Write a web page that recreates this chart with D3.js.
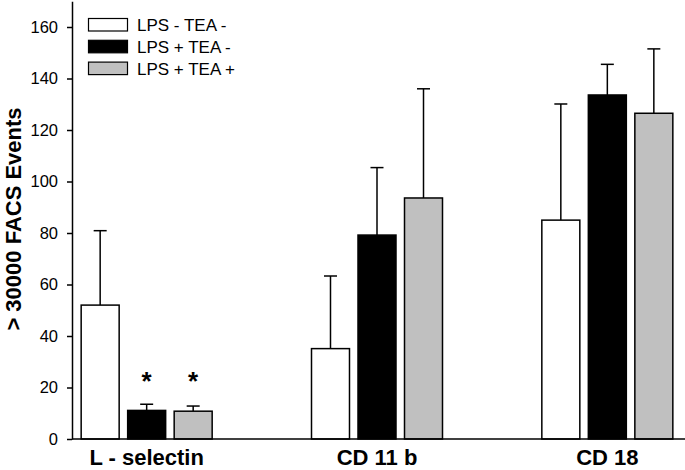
<!DOCTYPE html>
<html>
<head>
<meta charset="utf-8">
<script src="https://cdn.jsdelivr.net/npm/d3@7"></script>
<style>
  html, body { margin: 0; padding: 0; background: #fff; }
  svg { display: block; font-family: "Liberation Sans", Arial, sans-serif; }
</style>
</head>
<body>
<svg id="chart" width="685" height="470"></svg>
<script>
const categories = ["L - selectin", "CD 11 b", "CD 18"];
const seriesNames = ["LPS - TEA -", "LPS + TEA -", "LPS + TEA +"];
const seriesColors = ["#ffffff", "#000000", "#c0c0c0"];
const valsLpsNegTeaNeg = [52, 35.1, 85.0];
const valsLpsPosTeaNeg = [11.1, 79.2, 133.6];
const valsLpsPosTeaPos = [10.8, 93.6, 126.5];
const errLpsNegTeaNeg = [28.9, 28.2, 45.1];
const errLpsPosTeaNeg = [2.4, 26.2, 11.9];
const errLpsPosTeaPos = [2.0, 42.4, 25.0];
const significant = [[false, true, true], [false, false, false], [false, false, false]];
const yTicks = [0, 20, 40, 60, 80, 100, 120, 140, 160];

const values = [valsLpsNegTeaNeg, valsLpsPosTeaNeg, valsLpsPosTeaPos];
const errors = [errLpsNegTeaNeg, errLpsPosTeaNeg, errLpsPosTeaPos];

const svg = d3.select("#chart");
const y = d3.scaleLinear().domain([0, 170]).range([439, 1.25]);
const x0 = d3.scaleBand().domain(categories).range([31.5, 722.5]).padding(0);
const groupW = 131;
const x1 = d3.scaleBand().domain(d3.range(seriesNames.length))
  .range([x0.bandwidth() / 2 - groupW / 2, x0.bandwidth() / 2 + groupW / 2])
  .paddingInner(0.183).paddingOuter(0);

const data = [];
categories.forEach((c, ci) => {
  seriesNames.forEach((s, si) => {
    data.push({ c, ci, si, v: values[si][ci], e: errors[si][ci], sig: significant[ci][si] });
  });
});

// error bars (drawn first, behind bars)
const eb = svg.append("g");
data.forEach(d => {
  const cx = x0(d.c) + x1(d.si) + x1.bandwidth() / 2;
  eb.append("line").attr("x1", cx).attr("x2", cx)
    .attr("y1", y(d.v)).attr("y2", y(d.v + d.e))
    .attr("stroke", "#000").attr("stroke-width", 1.5);
  eb.append("line").attr("x1", cx - 6.5).attr("x2", cx + 6.5)
    .attr("y1", y(d.v + d.e)).attr("y2", y(d.v + d.e))
    .attr("stroke", "#000").attr("stroke-width", 1.5);
});

// bars
svg.append("g").selectAll("rect").data(data).join("rect")
  .attr("x", d => x0(d.c) + x1(d.si))
  .attr("width", x1.bandwidth())
  .attr("y", d => y(d.v))
  .attr("height", d => y(0) - y(d.v))
  .attr("fill", d => seriesColors[d.si])
  .attr("stroke", "#000").attr("stroke-width", 1.5);

// asterisks
svg.append("g").selectAll("text").data(data.filter(d => d.sig)).join("text")
  .attr("x", d => x0(d.c) + x1(d.si) + x1.bandwidth() / 2)
  .attr("y", 390)
  .attr("text-anchor", "middle")
  .attr("font-size", 26).attr("font-weight", "bold")
  .text("*");

// y axis
const yAxis = svg.append("g").attr("transform", "translate(72,0)")
  .call(d3.axisLeft(y).tickValues(yTicks).tickSize(5).tickPadding(9).tickSizeOuter(0));
yAxis.select(".domain").attr("stroke-width", 1.5);
yAxis.selectAll(".tick line").attr("stroke-width", 1.5);
yAxis.selectAll(".tick text").attr("font-size", 16.5)
  .attr("font-family", "Liberation Sans, Arial, sans-serif").attr("fill", "#000");

// x axis line
svg.append("line").attr("x1", 72).attr("x2", 685).attr("y1", y(0)).attr("y2", y(0))
  .attr("stroke", "#000").attr("stroke-width", 1.5);

// x category labels
svg.append("g").selectAll("text").data(categories).join("text")
  .attr("x", d => x0(d) + x0.bandwidth() / 2)
  .attr("y", 465)
  .attr("text-anchor", "middle")
  .attr("font-size", 22).attr("font-weight", "bold")
  .text(d => d);

// y title
svg.append("text")
  .attr("transform", "translate(21,219) rotate(-90)")
  .attr("text-anchor", "middle")
  .attr("font-size", 22).attr("font-weight", "bold")
  .text("> 30000 FACS Events");

// legend
const leg = svg.append("g");
seriesNames.forEach((s, i) => {
  const ly = 18.5 + i * 21.8;
  leg.append("rect").attr("x", 88.5).attr("y", ly).attr("width", 39).attr("height", 12.5)
    .attr("fill", seriesColors[i]).attr("stroke", "#000").attr("stroke-width", 1.2);
  leg.append("text").attr("x", 137).attr("y", ly + 12.5)
    .attr("font-size", 17).text(s);
});
</script>
</body>
</html>
